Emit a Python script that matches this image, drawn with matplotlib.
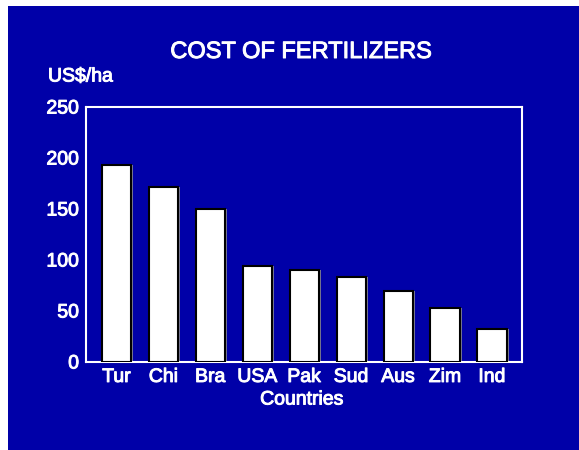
import matplotlib.pyplot as plt
import matplotlib.patheffects as pe
import numpy as np
from matplotlib.patches import Rectangle

countries = ['Tur', 'Chi', 'Bra', 'USA', 'Pak', 'Sud', 'Aus', 'Zim', 'Ind']
cost = [193, 172, 150, 94, 90, 83, 70, 53, 32]
yticks = [0, 50, 100, 150, 200, 250]

blue = '#0000a8'
plt.rcParams['font.family'] = ['Liberation Sans', 'DejaVu Sans']
heavy = [pe.withStroke(linewidth=0.7, foreground='white')]

fig = plt.figure(figsize=(5.79, 4.5), dpi=100)
fig.patch.set_facecolor('white')
# blue panel behind everything
fig.patches.append(Rectangle((8 / 579, 0), 1, 1 - 6 / 450, transform=fig.transFigure,
                             facecolor=blue, edgecolor='none', zorder=-5))

ax = fig.add_axes([86 / 579, 1 - 362 / 450, 436 / 579, 255 / 450])
ax.set_facecolor(blue)
x = np.arange(len(countries))
w = 0.62
ax.bar(x, cost, width=w, color='white', edgecolor='black', linewidth=1.5, zorder=3)
ax.vlines(x + w / 2 + 0.03, 0, cost, color='#909090', linewidth=1.2, zorder=2)

ax.set_xlim(-0.65, len(countries) - 0.36)
ax.set_ylim(0, 250)
ax.set_yticks(yticks)
ax.set_xticks(x)
ax.set_xticklabels(countries)
for s in ax.spines.values():
    s.set_color('white')
    s.set_linewidth(1.5)
ax.tick_params(colors='white', labelsize=14, length=0, pad=5)
ax.tick_params(axis='y', pad=5)
for t in ax.get_xticklabels() + ax.get_yticklabels():
    t.set_path_effects(heavy)

fig.text(301 / 579, 1 - 52 / 450, 'COST OF FERTILIZERS', color='white', fontsize=17,
         ha='center', va='center', path_effects=heavy)
fig.text(48 / 579, 1 - 77 / 450, 'US$/ha', color='white', fontsize=14,
         ha='left', va='center', path_effects=heavy)
fig.text(302 / 579, 1 - 400 / 450, 'Countries', color='white', fontsize=14,
         ha='center', va='center', path_effects=heavy)

plt.savefig('out.png', dpi=100)
